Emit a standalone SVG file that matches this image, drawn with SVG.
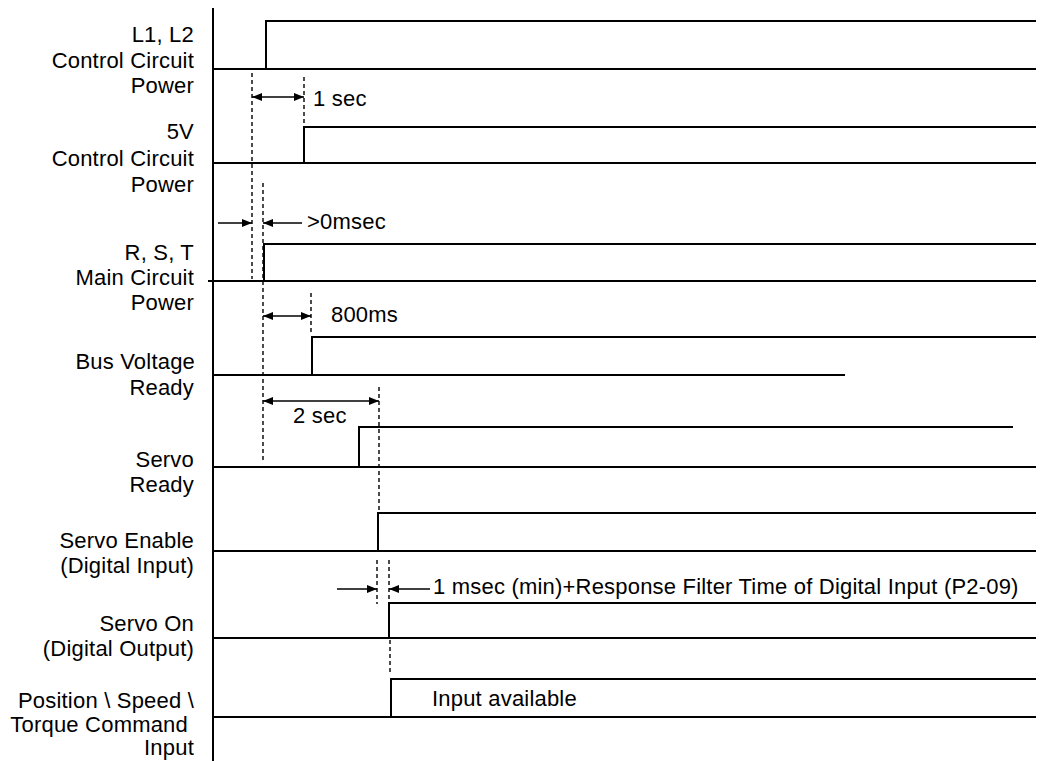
<svg xmlns="http://www.w3.org/2000/svg" width="1048" height="761" viewBox="0 0 1048 761">
<defs>
<marker id="ah" viewBox="0 0 10 8" refX="10" refY="4" markerWidth="10" markerHeight="8" markerUnits="userSpaceOnUse" orient="auto-start-reverse">
<path d="M0,0 L10,4 L0,8 Z" fill="#000"/>
</marker>
</defs>
<style>
.sig{fill:none;stroke:#000;stroke-width:2}
.dash{fill:none;stroke:#000;stroke-width:1.4;stroke-dasharray:4,3}
.arr{fill:none;stroke:#000;stroke-width:1.5}
text{font-family:"Liberation Sans",Arial,sans-serif;font-size:22px;letter-spacing:0.2px;fill:#000}
.lbl{text-anchor:end}
</style>
<rect width="1048" height="761" fill="#fff"/>
<line id="axis" class="sig" x1="213" y1="8" x2="213" y2="761"/>

<g id="l1l2">
<text class="lbl" x="194" y="42">L1, L2</text>
<text class="lbl" x="194" y="68">Control Circuit</text>
<text class="lbl" x="194" y="93">Power</text>
<polyline class="sig" points="213,69 266,69 266,21 1036,21"/>
<line class="sig" x1="266" y1="69" x2="1036" y2="69"/>
</g>

<g id="v5">
<text class="lbl" x="194" y="139">5V</text>
<text class="lbl" x="194" y="166">Control Circuit</text>
<text class="lbl" x="194" y="192">Power</text>
<polyline class="sig" points="213,163 304,163 304,127 1036,127"/>
<line class="sig" x1="304" y1="163" x2="1036" y2="163"/>
</g>

<g id="rst">
<text class="lbl" x="194" y="260">R, S, T</text>
<text class="lbl" x="194" y="285">Main Circuit</text>
<text class="lbl" x="194" y="310">Power</text>
<polyline class="sig" points="208,281 264,281 264,244 1036,244"/>
<line class="sig" x1="264" y1="281" x2="1036" y2="281"/>
</g>

<g id="bus">
<text class="lbl" x="195" y="369">Bus Voltage</text>
<text class="lbl" x="194" y="395">Ready</text>
<polyline class="sig" points="213,375 312,375 312,337 1036,337"/>
<line class="sig" x1="312" y1="375" x2="845" y2="375"/>
</g>

<g id="servoready">
<text class="lbl" x="194" y="467">Servo</text>
<text class="lbl" x="194" y="492">Ready</text>
<polyline class="sig" points="213,467 359,467 359,427 1013,427"/>
<line class="sig" x1="359" y1="467" x2="1036" y2="467"/>
</g>

<g id="servoenable">
<text class="lbl" x="194" y="548">Servo Enable</text>
<text class="lbl" x="194" y="573">(Digital Input)</text>
<polyline class="sig" points="213,551 378,551 378,513 1036,513"/>
<line class="sig" x1="378" y1="551" x2="1036" y2="551"/>
</g>

<g id="servoon">
<text class="lbl" x="194" y="631">Servo On</text>
<text class="lbl" x="194" y="656">(Digital Output)</text>
<polyline class="sig" points="213,638 389,638 389,603 1036,603"/>
<line class="sig" x1="389" y1="638" x2="1036" y2="638"/>
</g>

<g id="command">
<text class="lbl" x="194" y="708">Position \ Speed \</text>
<text class="lbl" x="188" y="732">Torque Command</text>
<text class="lbl" x="194" y="755">Input</text>
<polyline class="sig" points="213,717 391,717 391,679 1036,679"/>
<line class="sig" x1="391" y1="717" x2="1036" y2="717"/>
<text x="432" y="706">Input available</text>
</g>

<g id="connectors">
<line class="dash" x1="252" y1="73" x2="252" y2="279"/>
<line class="dash" x1="304" y1="77" x2="304" y2="125"/>
<line class="dash" x1="263" y1="183" x2="263" y2="460"/>
<line class="dash" x1="311" y1="293" x2="311" y2="335"/>
<line class="dash" x1="379" y1="387" x2="379" y2="512"/>
<line class="dash" x1="377" y1="560" x2="377" y2="604"/>
<line class="dash" x1="389" y1="560" x2="389" y2="601"/>
<line class="dash" x1="390" y1="640" x2="390" y2="675"/>

<line class="arr" x1="252" y1="97" x2="304" y2="97" marker-start="url(#ah)" marker-end="url(#ah)"/>
<text x="313" y="106">1 sec</text>

<line class="arr" x1="218" y1="223" x2="252" y2="223" marker-end="url(#ah)"/>
<line class="arr" x1="302" y1="223" x2="263" y2="223" marker-end="url(#ah)"/>
<text x="307" y="229">&gt;0msec</text>

<line class="arr" x1="263" y1="316" x2="311" y2="316" marker-start="url(#ah)" marker-end="url(#ah)"/>
<text x="331" y="322">800ms</text>

<line class="arr" x1="263" y1="401" x2="379" y2="401" marker-start="url(#ah)" marker-end="url(#ah)"/>
<text x="293" y="423">2 sec</text>

<line class="arr" x1="337" y1="589" x2="377" y2="589" marker-end="url(#ah)"/>
<line class="arr" x1="430" y1="589" x2="389" y2="589" marker-end="url(#ah)"/>
<text x="433" y="594">1 msec (min)+Response Filter Time of Digital Input (P2-09)</text>
</g>
</svg>
